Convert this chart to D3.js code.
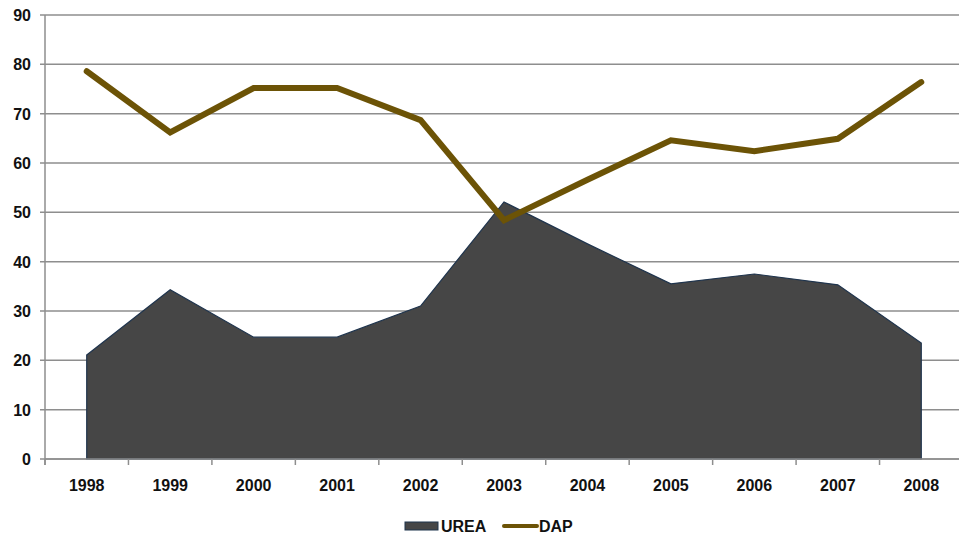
<!DOCTYPE html>
<html>
<head>
<meta charset="utf-8">
<script src="https://cdn.jsdelivr.net/npm/d3@7"></script>
<style>
  body { margin: 0; background: #fff; }
  text { font-family: "Liberation Sans", Arial, sans-serif; fill: #111; font-weight: bold; }
</style>
</head>
<body>
<div id="chart"></div>
<script>
// years on the x axis, two series
var years = ["1998", "1999", "2000", "2001", "2002", "2003", "2004", "2005", "2006", "2007", "2008"];
var urea = [21.1, 34.3, 24.7, 24.7, 31.0, 52.1, 43.6, 35.5, 37.5, 35.3, 23.5];
var dap = [78.6, 66.2, 75.2, 75.2, 68.7, 48.4, 56.6, 64.6, 62.4, 64.9, 76.4];
var yTicks = [0, 10, 20, 30, 40, 50, 60, 70, 80, 90];

var width = 959, height = 537;
var plotLeft = 45, plotRight = 963, plotTop = 15, plotBottom = 459;

var svg = d3.select("#chart").append("svg")
  .attr("width", width)
  .attr("height", height);

var x = d3.scaleBand().domain(years).range([plotLeft, plotRight]).padding(0);
var y = d3.scaleLinear().domain([0, 90]).range([plotBottom, plotTop]);
var cx = function(d, i) { return x(years[i]) + x.bandwidth() / 2; };

// gridlines
svg.append("g")
  .selectAll("line")
  .data(yTicks)
  .enter().append("line")
  .attr("x1", plotLeft - 5).attr("x2", width)
  .attr("y1", d => y(d)).attr("y2", d => y(d))
  .attr("stroke", "#8e8e8e")
  .attr("stroke-width", 1.5);

// y labels
svg.append("g")
  .selectAll("text")
  .data(yTicks)
  .enter().append("text")
  .attr("x", 31)
  .attr("y", d => y(d) + 6)
  .attr("text-anchor", "end")
  .style("font-size", "16px")
  .text(d => d);

// area for UREA
var area = d3.area()
  .x(cx)
  .y0(y(0))
  .y1(d => y(d));

svg.append("path")
  .datum(urea)
  .attr("d", area)
  .attr("fill", "#464646")
  .attr("stroke", "#1f344d")
  .attr("stroke-width", 1.2);

// y axis line
svg.append("line")
  .attr("x1", plotLeft).attr("x2", plotLeft)
  .attr("y1", plotTop).attr("y2", plotBottom + 6)
  .attr("stroke", "#8e8e8e")
  .attr("stroke-width", 1.5);

// x axis with ticks between categories
var xAxis = svg.append("g");
xAxis.append("line")
  .attr("x1", plotLeft).attr("x2", width)
  .attr("y1", plotBottom).attr("y2", plotBottom)
  .attr("stroke", "#8e8e8e")
  .attr("stroke-width", 1.5);
xAxis.selectAll(".tk")
  .data(years)
  .enter().append("line")
  .attr("class", "tk")
  .attr("x1", d => x(d)).attr("x2", d => x(d))
  .attr("y1", plotBottom).attr("y2", plotBottom + 6)
  .attr("stroke", "#8e8e8e")
  .attr("stroke-width", 1.5);
xAxis.selectAll("text")
  .data(years)
  .enter().append("text")
  .attr("x", d => x(d) + x.bandwidth() / 2)
  .attr("y", 491)
  .attr("text-anchor", "middle")
  .style("font-size", "16px")
  .text(d => d);

// DAP line
var line = d3.line()
  .x(cx)
  .y(d => y(d));

svg.append("path")
  .datum(dap)
  .attr("d", line)
  .attr("fill", "none")
  .attr("stroke", "#6c5306")
  .attr("stroke-width", 6)
  .attr("stroke-linejoin", "miter")
  .attr("stroke-linecap", "round");

// legend
var lg = svg.append("g");
lg.append("rect")
  .attr("x", 405).attr("y", 522)
  .attr("width", 33).attr("height", 8)
  .attr("fill", "#464646")
  .attr("stroke", "#1f344d");
lg.append("text")
  .attr("x", 441).attr("y", 532)
  .style("font-size", "16px")
  .text("UREA");
lg.append("line")
  .attr("x1", 504).attr("x2", 537)
  .attr("y1", 526).attr("y2", 526)
  .attr("stroke", "#6c5306")
  .attr("stroke-width", 4)
  .attr("stroke-linecap", "round");
lg.append("text")
  .attr("x", 539).attr("y", 532)
  .style("font-size", "16px")
  .text("DAP");
</script>
</body>
</html>
